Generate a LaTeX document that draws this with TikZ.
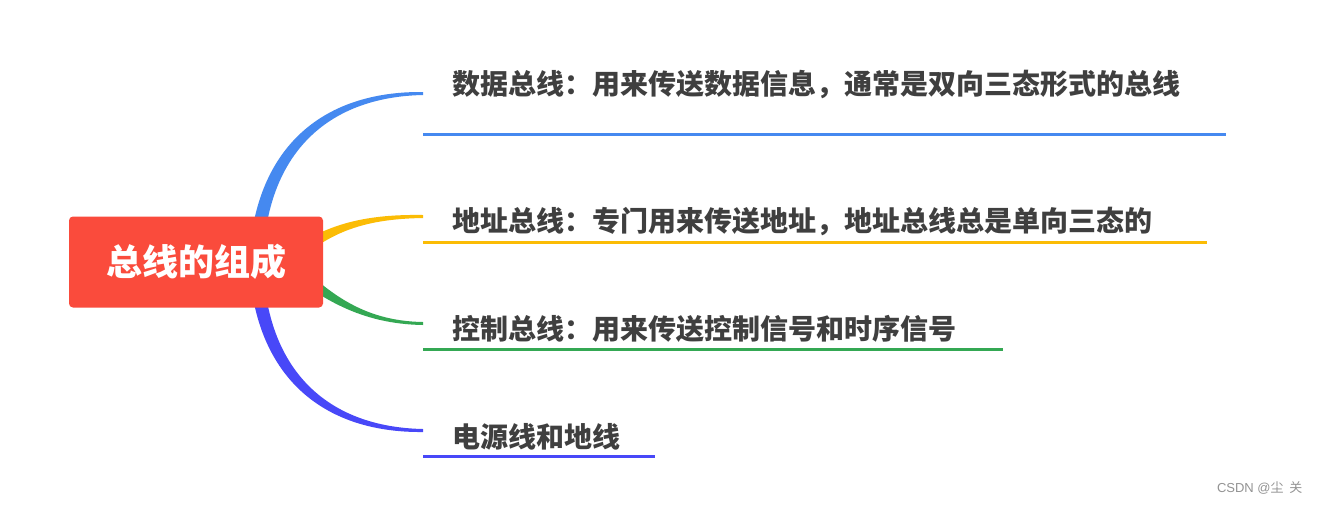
\documentclass[tikz,border=0pt]{standalone}
\usepackage{fontspec}
\newfontfamily\cjk{Noto Sans CJK SC}
\newfontfamily\wmfont{Liberation Sans}
\definecolor{rootred}{HTML}{FA4B3C}
\definecolor{bblue}{HTML}{4589F0}
\definecolor{byellow}{HTML}{FBBC05}
\definecolor{bgreen}{HTML}{34A853}
\definecolor{bpurple}{HTML}{4848F8}
\definecolor{txt}{HTML}{3F3F3F}
\tikzset{
  rootbox/.style={fill=rootred,rounded corners=4pt,minimum width=254pt,minimum height=91pt,inner sep=0pt,text=white,font=\cjk\bfseries\fontsize{36}{40}\selectfont},
  leaf/.style={anchor=west,inner sep=0pt,text=txt,font=\cjk\bfseries\fontsize{28}{32}\selectfont},
  uline/.style={line width=3pt},
  wmark/.style={text=gray!85,font=\wmfont\fontsize{13}{15}\selectfont}
}
\begin{document}
\begin{tikzpicture}[x=1pt,y=-1pt]
\useasboundingbox (0,0) rectangle (1321,504);
\fill[white] (0,0) rectangle (1321,504);
% tapered branches
\fill[bblue] (249,262) .. controls (254,150) and (320,91) .. (423,92)
  -- (423,95) .. controls (326,97) and (266,155) .. (263,262) -- cycle;
\fill[bpurple] (249,262) .. controls (254,374) and (320,433) .. (423,432)
  -- (423,429) .. controls (326,427) and (266,369) .. (263,262) -- cycle;
\fill[byellow] (280,258) .. controls (320,226) and (360,214) .. (423,215)
  -- (423,218) .. controls (360,219) and (326,234) .. (290,268) -- cycle;
\fill[bgreen] (280,266) .. controls (320,298) and (360,324) .. (423,325)
  -- (423,322) .. controls (360,321) and (326,290) .. (290,256) -- cycle;
% root
\node[rootbox] (root) at (196,262) {总线的组成};
% leaves
\node[leaf] (t1) at (452,84) {数据总线：用来传送数据信息，通常是双向三态形式的总线};
\node[leaf] (t2) at (452,221) {地址总线：专门用来传送地址，地址总线总是单向三态的};
\node[leaf] (t3) at (452,329) {控制总线：用来传送控制信号和时序信号};
\node[leaf] (t4) at (452,437) {电源线和地线};
% underlines
\coordinate (b1) at (423,134); \coordinate (b2) at (1226,134);
\coordinate (y1) at (423,242); \coordinate (y2) at (1207,242);
\coordinate (g1) at (423,349); \coordinate (g2) at (1003,349);
\coordinate (p1) at (423,456); \coordinate (p2) at (655,456);
\draw[uline,bblue] (b1) -- (b2);
\draw[uline,byellow] (y1) -- (y2);
\draw[uline,bgreen] (g1) -- (g2);
\draw[uline,bpurple] (p1) -- (p2);
% watermark
\node[wmark,anchor=east] (wm) at (1306,488) {CSDN @{\cjk 尘\ \ 关}};
\end{tikzpicture}
\end{document}
